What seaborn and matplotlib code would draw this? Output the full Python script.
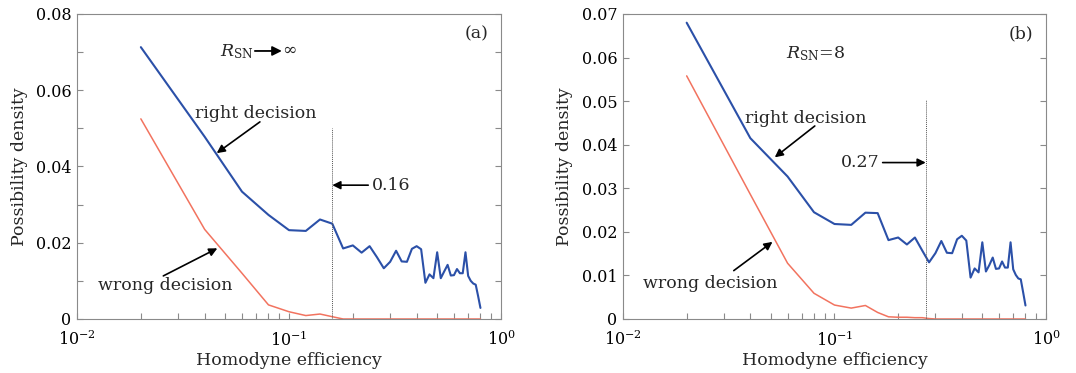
import matplotlib
matplotlib.use("Agg")
import matplotlib.pyplot as plt
import seaborn as sns
import pandas as pd
from matplotlib.ticker import MultipleLocator, FuncFormatter, LogLocator, NullFormatter

# ---------------- data ----------------
efficiency = [0.02, 0.04, 0.06, 0.08, 0.10, 0.12, 0.14, 0.16, 0.18, 0.20,
              0.22, 0.24, 0.26, 0.28, 0.30, 0.32, 0.34, 0.36, 0.38, 0.40,
              0.42, 0.44, 0.46, 0.48, 0.50, 0.52, 0.54, 0.56, 0.58, 0.60,
              0.62, 0.64, 0.66, 0.68, 0.70, 0.72, 0.74, 0.76, 0.78, 0.80]

right_a = [0.0713, 0.0478, 0.0334, 0.0273, 0.0233, 0.0231, 0.0261, 0.0250, 0.0185, 0.0193,
           0.0174, 0.0191, 0.0162, 0.0133, 0.0150, 0.0179, 0.0151, 0.0150, 0.0184, 0.0191,
           0.0183, 0.0095, 0.0117, 0.0107, 0.0175, 0.0107, 0.0125, 0.0142, 0.0114, 0.0115,
           0.0131, 0.0120, 0.0120, 0.0175, 0.0113, 0.0100, 0.0093, 0.0090, 0.0060, 0.0029]
wrong_a = [0.0525, 0.0235, 0.0120, 0.0037, 0.0019, 0.0009, 0.0013, 0.0006, 0.0000, 0.0000,
           0.0000, 0.0000, 0.0000, 0.0000, 0.0000, 0.0000, 0.0000, 0.0000, 0.0000, 0.0000,
           0.0000, 0.0000, 0.0000, 0.0000, 0.0000, 0.0000, 0.0000, 0.0000, 0.0000, 0.0000,
           0.0000, 0.0000, 0.0000, 0.0000, 0.0000, 0.0000, 0.0000, 0.0000, 0.0000, 0.0000]

right_b = [0.0680, 0.0415, 0.0327, 0.0245, 0.0218, 0.0216, 0.0244, 0.0243, 0.0181, 0.0187,
           0.0171, 0.0187, 0.0157, 0.0130, 0.0151, 0.0179, 0.0152, 0.0151, 0.0183, 0.0191,
           0.0180, 0.0095, 0.0116, 0.0107, 0.0176, 0.0109, 0.0124, 0.0141, 0.0115, 0.0116,
           0.0132, 0.0118, 0.0118, 0.0176, 0.0114, 0.0101, 0.0093, 0.0091, 0.0061, 0.0031]
wrong_b = [0.0558, 0.0286, 0.0128, 0.0059, 0.0032, 0.0025, 0.0031, 0.0015, 0.0005, 0.0004,
           0.0004, 0.0003, 0.0003, 0.0001, 0.0000, 0.0000, 0.0000, 0.0000, 0.0000, 0.0000,
           0.0000, 0.0000, 0.0000, 0.0000, 0.0000, 0.0000, 0.0000, 0.0000, 0.0000, 0.0000,
           0.0000, 0.0000, 0.0000, 0.0000, 0.0000, 0.0000, 0.0000, 0.0000, 0.0000, 0.0000]

threshold_a = 0.16
threshold_b = 0.27
panel_labels = ["(a)", "(b)"]

# ---------------- style ----------------
sns.set_style("white")
plt.rcParams["font.family"] = ["DejaVu Serif"]
plt.rcParams["mathtext.fontset"] = "dejavuserif"

BLUE = "#2b50a8"
RED = "#f2735f"
GREY = "#8a8a8a"

fig = plt.figure(figsize=(10.76, 3.73), dpi=100)
axA = fig.add_axes([0.0716, 0.1448, 0.3940, 0.8177])
axB = fig.add_axes([0.5790, 0.1448, 0.3931, 0.8177])


def draw(ax, right, wrong, ymax, ymajor):
    df = pd.DataFrame({"eff": efficiency * 2,
                       "dens": right + wrong,
                       "kind": ["right"] * len(right) + ["wrong"] * len(wrong)})
    sns.lineplot(data=df[df.kind == "wrong"], x="eff", y="dens", ax=ax,
                 color=RED, linewidth=1.1, legend=False)
    sns.lineplot(data=df[df.kind == "right"], x="eff", y="dens", ax=ax,
                 color=BLUE, linewidth=1.5, legend=False)
    ax.set_xscale("log")
    ax.set_xlim(1e-2, 1e0)
    ax.set_ylim(0, ymax)
    ax.yaxis.set_major_locator(MultipleLocator(ymajor))
    ax.yaxis.set_minor_locator(MultipleLocator(0.01))
    ax.yaxis.set_major_formatter(FuncFormatter(lambda v, p: "0" if abs(v) < 1e-9 else f"{v:.2f}"))
    ax.xaxis.set_major_locator(LogLocator(base=10))
    ax.xaxis.set_minor_locator(LogLocator(base=10, subs=range(2, 10)))
    ax.xaxis.set_minor_formatter(NullFormatter())
    ax.tick_params(which="both", direction="in", length=4, width=0.8, color=GREY,
                   labelsize=11.5, labelcolor="black", right=True, top=False, left=True, bottom=True)
    ax.tick_params(axis="y", pad=4)
    ax.tick_params(axis="x", pad=8)
    for s in ax.spines.values():
        s.set_color(GREY)
        s.set_linewidth(0.8)
    ax.set_xlabel("Homodyne efficiency", fontsize=12.5, labelpad=2)
    ax.set_ylabel("Possibility density", fontsize=12.5, labelpad=6)


draw(axA, right_a, wrong_a, 0.08, 0.02)
draw(axB, right_b, wrong_b, 0.07, 0.01)

arrow = dict(arrowstyle="-|>", color="black", lw=1.2, mutation_scale=12, shrinkA=0, shrinkB=0)
fs = 12.5

# Panel (a)
axA.plot([threshold_a, threshold_a], [0, 0.050], color="#555555", lw=0.7, ls=(0, (1, 1)))
axA.text(0.97, 0.935, panel_labels[0], transform=axA.transAxes, ha="right", va="center", fontsize=fs)
axA.text(0.0473, 0.0700, r"$R_{\rm SN}$", ha="left", va="center", fontsize=fs)
axA.annotate("", xy=(0.0925, 0.0703), xytext=(0.0690, 0.0703),
             arrowprops=dict(arrowstyle="-|>", color="black", lw=1.3, mutation_scale=14,
                             shrinkA=0, shrinkB=0))
axA.text(0.0930, 0.0706, r"$\infty$", ha="left", va="center", fontsize=fs)
axA.text(0.0360, 0.0540, "right decision", ha="left", va="center", fontsize=fs)
axA.annotate("", xy=(0.0456, 0.0435), xytext=(0.0729, 0.0517), arrowprops=arrow)
axA.text(0.01256, 0.0087, "wrong decision", ha="left", va="center", fontsize=fs)
axA.annotate("", xy=(0.0459, 0.01854), xytext=(0.02553, 0.0113), arrowprops=arrow)
axA.annotate("0.16", xy=(threshold_a, 0.0351), xytext=(0.245, 0.0351), ha="left", va="center",
             fontsize=fs, arrowprops=arrow)

# Panel (b)
axB.plot([threshold_b, threshold_b], [0, 0.0503], color="#555555", lw=0.7, ls=(0, (1, 1)))
axB.text(0.97, 0.935, panel_labels[1], transform=axB.transAxes, ha="right", va="center", fontsize=fs)
axB.text(0.0593, 0.0610, r"$R_{\rm SN}$=8", ha="left", va="center", fontsize=fs)
axB.text(0.0379, 0.0461, "right decision", ha="left", va="center", fontsize=fs)
axB.annotate("", xy=(0.0522, 0.0371), xytext=(0.0807, 0.0443), arrowprops=arrow)
axB.text(0.01244, 0.0082, "wrong decision", ha="left", va="center", fontsize=fs)
axB.annotate("", xy=(0.0509, 0.0177), xytext=(0.0334, 0.0111), arrowprops=arrow)
axB.annotate("0.27", xy=(threshold_b, 0.0359), xytext=(0.163, 0.0359), ha="right", va="center",
             fontsize=fs, arrowprops=arrow)

fig.savefig("out.png", dpi=100, facecolor="white")
